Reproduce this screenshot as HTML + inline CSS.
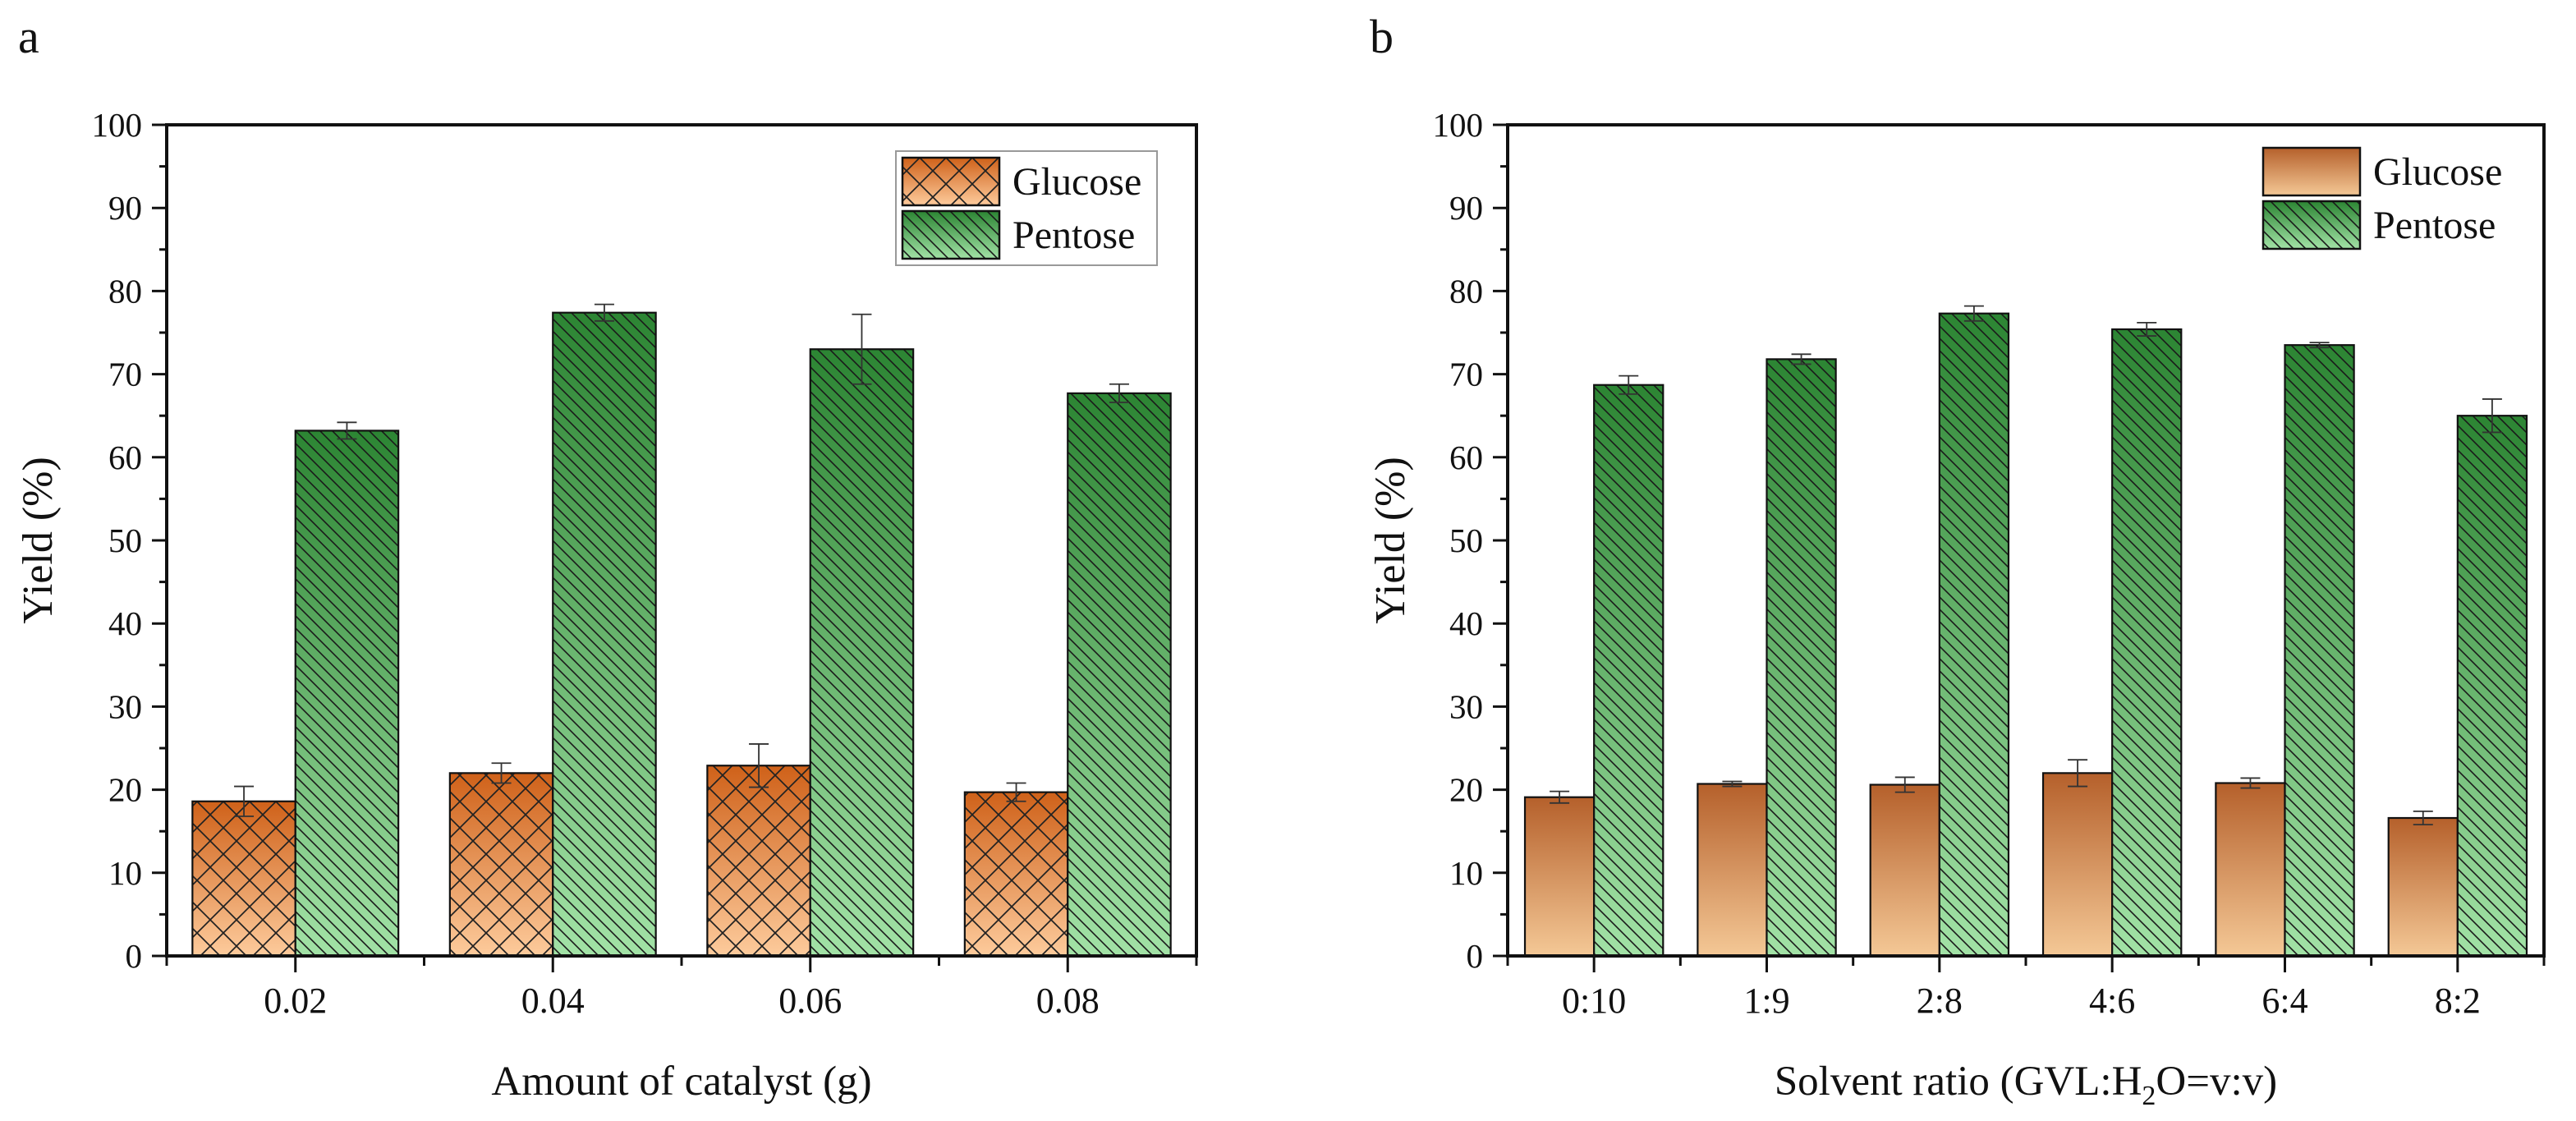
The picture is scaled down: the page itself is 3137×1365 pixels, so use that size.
<!DOCTYPE html>
<html><head><meta charset="utf-8"><style>
body{margin:0;background:#fff;}
svg{display:block;font-family:"Liberation Serif",serif;}
</style></head><body>
<svg id="fig" width="3137" height="1365" viewBox="0 0 3137 1365" xmlns="http://www.w3.org/2000/svg">
<defs>
<linearGradient id="gA" x1="0" y1="0" x2="0" y2="1"><stop offset="0" stop-color="#cf6119"/><stop offset="1" stop-color="#fdcb9c"/></linearGradient>
<linearGradient id="gB" x1="0" y1="0" x2="0" y2="1"><stop offset="0" stop-color="#b5602b"/><stop offset="1" stop-color="#f4c896"/></linearGradient>
<linearGradient id="gP" x1="0" y1="0" x2="0" y2="1"><stop offset="0" stop-color="#2c8533"/><stop offset="1" stop-color="#a2e2a6"/></linearGradient>
<pattern id="cross" width="32" height="32" patternUnits="userSpaceOnUse"><path d="M0 0L32 32M32 0L0 32" stroke="#222" stroke-width="1.7"/></pattern>
<pattern id="diag" width="15" height="15" patternUnits="userSpaceOnUse"><path d="M-4 -4L19 19M-4 11L4 19M11 -4L19 4" stroke="#1a1a1a" stroke-width="1.6"/></pattern>
</defs>
<g id="root"></g>
</svg>
<script>
const catsA = ["0.02","0.04","0.06","0.08"];
const glucoseA = [18.6,22.0,22.9,19.7];
const glucoseErrA = [1.8,1.2,2.6,1.1];
const pentoseA = [63.2,77.4,73.0,67.7];
const pentoseErrA = [1.0,1.0,4.2,1.1];
const catsB = ["0:10","1:9","2:8","4:6","6:4","8:2"];
const glucoseB = [19.1,20.7,20.6,22.0,20.8,16.6];
const glucoseErrB = [0.7,0.3,0.9,1.6,0.6,0.8];
const pentoseB = [68.7,71.8,77.3,75.4,73.5,65.0];
const pentoseErrB = [1.1,0.6,0.9,0.8,0.3,2.0];
const yTicks = [0,10,20,30,40,50,60,70,80,90,100];

const NS="http://www.w3.org/2000/svg";
const root=document.getElementById('root');
function mk(tag,attrs,parent){const e=document.createElementNS(NS,tag);for(const k in attrs)e.setAttribute(k,attrs[k]);(parent||root).appendChild(e);return e;}

function panel(cfg){
  const g=mk('g',{});
  
  
  const L=cfg.left,R=cfg.right,T=152,B=1164;
  const y=v=>B-(v/100)*(B-T);
  const n=cfg.cats.length, step=(R-L)/n;
  const cx=i=>L+step*(i+0.5);
  const bw=step*0.4;
  for(let i=0;i<n;i++){
    [[cfg.gl,cfg.glErr,cfg.glFill,cfg.glPat,-1,'glucose'],[cfg.pe,cfg.peErr,'url(#gP)','url(#diag)',0,'pentose']].forEach(s=>{
      const v=s[0][i],e=s[1][i];
      const x0=cx(i)+s[4]*bw, yt=y(v);
      const r=mk('rect',{x:x0,y:yt,width:bw,height:B-yt,fill:s[2],stroke:'none'},g);
      
      
      if(s[3]) mk('rect',{x:x0,y:yt,width:bw,height:B-yt,fill:s[3]},g);
      mk('rect',{x:x0,y:yt,width:bw,height:B-yt,fill:'none',stroke:'#111','stroke-width':2.2},g);
      const ex=x0+bw/2;
      const eb=mk('path',{d:`M${ex} ${y(v+e)}V${y(v-e)}M${ex-12} ${y(v+e)}H${ex+12}M${ex-12} ${y(v-e)}H${ex+12}`,stroke:'#333','stroke-width':1.8,fill:'none'},g);
      
      
    });
  }
  mk('rect',{x:L,y:T,width:R-L,height:B-T,fill:'none',stroke:'#111','stroke-width':4},g);
  yTicks.forEach(t=>{
    mk('line',{x1:L-18,x2:L,y1:y(t),y2:y(t),stroke:'#111','stroke-width':3},g);
    if(t<100) mk('line',{x1:L-9,x2:L,y1:y(t+5),y2:y(t+5),stroke:'#111','stroke-width':3},g);
    const tx=mk('text',{x:L-30,y:y(t)+14,'text-anchor':'end','font-size':41,fill:'#111'},g);
    tx.textContent=t;
    
    
  });
  for(let i=0;i<=n;i++){
    mk('line',{x1:L+step*i,x2:L+step*i,y1:B,y2:B+12,stroke:'#111','stroke-width':3},g);
  }
  cfg.cats.forEach((c,i)=>{
    mk('line',{x1:cx(i),x2:cx(i),y1:B,y2:B+20,stroke:'#111','stroke-width':3},g);
    const tx=mk('text',{x:cx(i),y:1233,'text-anchor':'middle','font-size':44,fill:'#111'},g);
    tx.textContent=c;
    
    
  });
  const yt=mk('text',{x:0,y:0,transform:`translate(${L-cfg.yTitleOff},${(T+B)/2}) rotate(-90)`,'text-anchor':'middle','font-size':52,fill:'#111'},g);
  yt.textContent='Yield (%)';
  
  
  const xt=mk('text',{x:(L+R)/2,y:1333,'text-anchor':'middle','font-size':51,fill:'#111'},g);
  xt.innerHTML=cfg.title;
  
  
  const pl=mk('text',{x:cfg.labelX,y:64,'font-size':58,fill:'#111'},g);
  pl.textContent=cfg.label;
  
  
  const lg=mk('g',{},g);
  
  
  const lx=cfg.legX, ly=cfg.legY;
  if(cfg.legBox) mk('rect',{x:lx-8,y:ly-8,width:318,height:139,fill:'#fff',stroke:'#999','stroke-width':2},lg);
  [[cfg.glFill,cfg.glPat,'Glucose'],['url(#gP)','url(#diag)','Pentose']].forEach((s,k)=>{
    const sy=ly+k*65;
    const ge=mk('g',{},lg);
    
    
    mk('rect',{x:lx,y:sy,width:118,height:58,fill:s[0]},ge);
    if(s[1]) mk('rect',{x:lx,y:sy,width:118,height:58,fill:s[1]},ge);
    mk('rect',{x:lx,y:sy,width:118,height:58,fill:'none',stroke:'#111','stroke-width':2.5},ge);
    const t=mk('text',{x:lx+134,y:sy+45,'font-size':48,fill:'#111'},ge);
    t.textContent=s[2];
  });
}
panel({name:'panel-a-chart',left:203,right:1457,cats:catsA,gl:glucoseA,glErr:glucoseErrA,pe:pentoseA,peErr:pentoseErrA,
  glFill:'url(#gA)',glPat:'url(#cross)',title:'Amount of catalyst (g)',label:'a',labelX:22,legX:1099,legY:192,legBox:true,yTitleOff:140});
panel({name:'panel-b-chart',left:1836,right:3098,cats:catsB,gl:glucoseB,glErr:glucoseErrB,pe:pentoseB,peErr:pentoseErrB,
  glFill:'url(#gB)',glPat:null,title:'Solvent ratio (GVL:H<tspan font-size="34" dy="12">2</tspan><tspan dy="-12">O=v:v)</tspan>',label:'b',labelX:1668,legX:2756,legY:180,legBox:false,yTitleOff:126});
</script>
</body></html>
